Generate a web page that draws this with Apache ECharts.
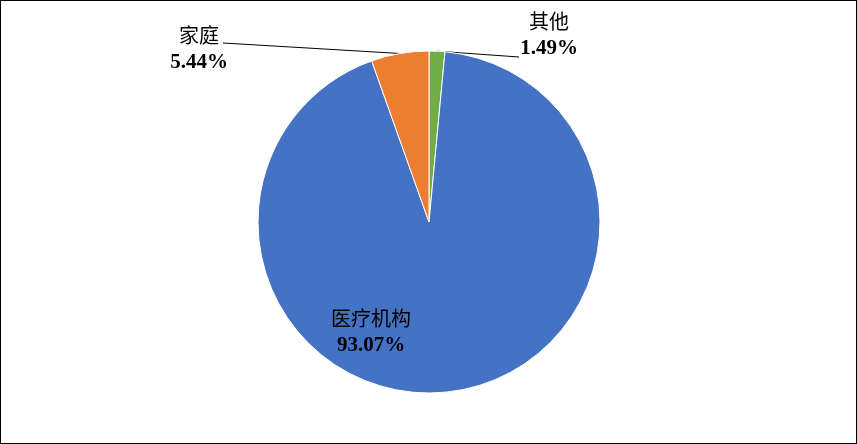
<!DOCTYPE html>
<html>
<head>
<meta charset="utf-8">
<script src="https://cdn.jsdelivr.net/npm/echarts@6/dist/echarts.min.js"></script>
<style>
html,body{margin:0;padding:0;background:#fff;}
#c{width:857px;height:444px;box-sizing:border-box;border:1px solid #000;}
</style>
</head>
<body>
<div id="c"></div>
<script>
const categories = ['其他', '医疗机构', '家庭'];
const values = [1.49, 93.07, 5.44];
const colors = ['#70AD47', '#4472C4', '#ED7D31'];

const chart = echarts.init(document.getElementById('c'), null, {renderer: 'canvas'});

// label anchor positions (label block centers, px) and leader-line end offsets
const labelPos = {
  '其他': {x: 548, y: 34, lx: -30, ly: 22},
  '医疗机构': {x: 370, y: 331},
  '家庭': {x: 198, y: 48, lx: 24, ly: -6}
};

const data = categories.map((n, i) => {
  const item = {name: n, value: values[i], itemStyle: {color: colors[i]}};
  if (n === '医疗机构') {
    item.label = {position: 'inside'};
    item.labelLine = {show: false};
  }
  return item;
});

chart.setOption({
  animation: false,
  series: [{
    type: 'pie',
    center: [428, 221],
    radius: 171,
    startAngle: 90,
    clockwise: true,
    avoidLabelOverlap: false,
    itemStyle: {borderColor: '#fff', borderWidth: 1},
    label: {
      show: true,
      position: 'outside',
      formatter: p => '{n|' + p.name + '}\n{p|' + p.value.toFixed(2) + '%}',
      rich: {
        n: {fontFamily: '"Noto Sans CJK SC", serif', fontSize: 20, color: '#000', lineHeight: 27, align: 'center'},
        p: {fontFamily: '"Liberation Serif", "Times New Roman", serif', fontWeight: 'bold', fontSize: 21, color: '#000', lineHeight: 27, align: 'center'}
      }
    },
    labelLine: {show: true, lineStyle: {color: '#000', width: 1}, length: 20, length2: 0},
    labelLayout: function (p) {
      const name = categories[p.dataIndex];
      const pos = labelPos[name];
      const out = {x: pos.x, y: pos.y, align: 'center', verticalAlign: 'middle'};
      if (p.labelLinePoints && pos.lx != null) {
        out.labelLinePoints = [p.labelLinePoints[0], [pos.x + pos.lx, pos.y + pos.ly]];
      }
      return out;
    },
    data: data
  }]
});
</script>
</body>
</html>
